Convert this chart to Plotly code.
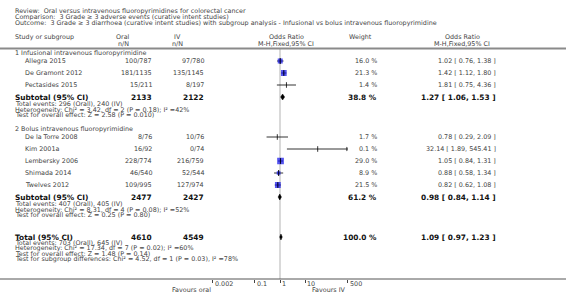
import math
import plotly.graph_objects as go

W, H = 566, 296

# ---------------- data ----------------
g1_names = ["Allegra 2015", "De Gramont 2012", "Pectasides 2015"]
g1_oral = ["100/787", "181/1135", "15/211"]
g1_iv = ["97/780", "135/1145", "8/197"]
g1_weight = [16.0, 21.3, 1.4]
g1_or = [1.02, 1.42, 1.81]
g1_lo = [0.76, 1.12, 0.75]
g1_hi = [1.38, 1.80, 4.36]

g2_names = ["De la Torre 2008", "Kim 2001a", "Lembersky 2006", "Shimada 2014", "Twelves 2012"]
g2_oral = ["8/76", "16/92", "228/774", "46/540", "109/995"]
g2_iv = ["10/76", "0/74", "216/759", "52/544", "127/974"]
g2_weight = [1.7, 0.1, 29.0, 8.9, 21.5]
g2_or = [0.78, 32.14, 1.05, 0.88, 0.82]
g2_lo = [0.29, 1.89, 0.84, 0.58, 0.62]
g2_hi = [2.09, 545.41, 1.31, 1.34, 1.08]

sub_labels = ["Subtotal (95% CI)", "Subtotal (95% CI)", "Total (95% CI)"]
sub_oral_n = ["2133", "2477", "4610"]
sub_iv_n = ["2122", "2427", "4549"]
sub_weight = ["38.8 %", "61.2 %", "100.0 %"]
sub_or = [1.27, 0.98, 1.09]
sub_lo = [1.06, 0.84, 0.97]
sub_hi = [1.53, 1.14, 1.23]

g1_stats = ["Total events: 296 (Orall), 240 (IV)",
            "Heterogeneity: Chi² = 3.42, df = 2 (P = 0.18); I² =42%",
            "Test for overall effect: Z = 2.58 (P = 0.010)"]
g2_stats = ["Total events: 407 (Orall), 405 (IV)",
            "Heterogeneity: Chi² = 8.31, df = 4 (P = 0.08); I² =52%",
            "Test for overall effect: Z = 0.25 (P = 0.80)"]
tot_stats = ["Total events: 703 (Orall), 645 (IV)",
             "Heterogeneity: Chi² = 17.34, df = 7 (P = 0.02); I² =60%",
             "Test for overall effect: Z = 1.48 (P = 0.14)",
             "Test for subgroup differences: Chi² = 4.52, df = 1 (P = 0.03), I² =78%"]

tick_vals = [0.002, 0.1, 1, 10, 500]
tick_text = ["0.002", "0.1", "1", "10", "500"]
x_min, x_max = 0.002, 500

titles = ["Review:  Oral versus intravenous fluoropyrimidines for colorectal cancer",
          "Comparison:  3 Grade ≥ 3 adverse events (curative intent studies)",
          "Outcome:  3 Grade ≥ 3 diarrhoea (curative intent studies) with subgroup analysis - Infusional vs bolus intravenous fluoropyrimidine"]
group_titles = ["1 Infusional intravenous fluoropyrimidine", "2 Bolus intravenous fluoropyrimidine"]
favours = ["Favours oral", "Favours IV"]

# ---------------- layout constants ----------------
FONT = "DejaVu Sans"
TXT = "#444444"
DARK = "#111111"
SMALL = 6.4
BOLD = 7.4
X_STUDY = 13
X_INDENT = 23
X_ORAL = 154
X_IV = 206
X_W = 379
X_OR = 498
PLOT_L, PLOT_R = 212.5, 347.5
AXIS_Y = 279
PITCH = 12

def px(x):
    return x / W

ann = []

def text(x, y, s, anchor="left", size=SMALL, bold=False, color=TXT, xref="paper"):
    if bold:
        s = "<b>" + s + "</b>"
    ann.append(dict(x=px(x) if xref == "paper" else x, y=y, xref=xref, yref="y", text=s,
                    showarrow=False, xanchor=anchor, yanchor="middle",
                    font=dict(family=FONT, size=size, color=color)))

for i, t in enumerate(titles):
    text(X_STUDY, 11 + 6 * i, t)

# headers
text(X_STUDY, 37, "Study or subgroup")
text(123, 37, "Oral", "center")
text(123, 44, "n/N", "center")
text(177, 37, "IV", "center")
text(177, 44, "n/N", "center")
text(286, 37, "Odds Ratio", "center")
text(286, 44, "M-H,Fixed,95% CI", "center")
text(360, 37, "Weight", "center")
text(462, 37, "Odds Ratio", "center")
text(462, 44, "M-H,Fixed,95% CI", "center")

fmt = lambda o, l, h: f"{o:.2f} [ {l:.2f}, {h:.2f} ]"

study_y, study_or, study_lo, study_hi, study_w = [], [], [], [], []
diamonds = []

def subtotal(y, k):
    text(X_STUDY, y, sub_labels[k], bold=True, size=BOLD, color=DARK)
    text(X_ORAL, y, sub_oral_n[k], "right", bold=True, size=BOLD, color=DARK)
    text(X_IV, y, sub_iv_n[k], "right", bold=True, size=BOLD, color=DARK)
    text(X_W, y, sub_weight[k], "right", bold=True, size=BOLD, color=DARK)
    text(X_OR, y, fmt(sub_or[k], sub_lo[k], sub_hi[k]), "right", bold=True, size=BOLD, color=DARK)
    diamonds.append((y, sub_lo[k], sub_or[k], sub_hi[k]))

def group(y0, title, names, oral, iv, wts, ors, los, his, k, stats):
    text(X_STUDY, y0, title)
    y = y0 - 4
    for n, o, v, w, r, l, h in zip(names, oral, iv, wts, ors, los, his):
        y += PITCH
        text(X_INDENT, y, n)
        text(X_ORAL, y, o, "right")
        text(X_IV, y, v, "right")
        text(X_W, y, f"{w:.1f} %", "right")
        text(X_OR, y, fmt(r, l, h), "right")
        study_y.append(y); study_or.append(r); study_lo.append(l); study_hi.append(h); study_w.append(w)
    y += PITCH
    subtotal(y, k)
    for j, s in enumerate(stats):
        text(X_STUDY, y + 7 + 5.6 * j, s)
    return y

group(53, group_titles[0], g1_names, g1_oral, g1_iv, g1_weight, g1_or, g1_lo, g1_hi, 0, g1_stats)
group(129, group_titles[1], g2_names, g2_oral, g2_iv, g2_weight, g2_or, g2_lo, g2_hi, 1, g2_stats)
ty = 237
subtotal(ty, 2)
for j, s in enumerate(tot_stats):
    text(X_STUDY, ty + 5.5 + 5.6 * j, s)

# tick labels, left-aligned at their ticks
for v, t in zip(tick_vals, tick_text):
    text(math.log10(v), AXIS_Y + 4.5, t, "left", xref="x")

# favours labels
text(math.log10(x_min), AXIS_Y + 11, favours[0], "right", xref="x")
text(math.log10(x_max), AXIS_Y + 11, favours[1], "right", xref="x")

fig = go.Figure()

# CI lines
lx, ly, arrows_x, arrows_y = [], [], [], []
for y, l, h in zip(study_y, study_lo, study_hi):
    hh = min(h, x_max)
    ll = max(l, x_min)
    lx += [ll, hh, None]
    ly += [y, y, None]
    if h > x_max:
        arrows_x.append(x_max); arrows_y.append(y)
fig.add_trace(go.Scatter(x=lx, y=ly, mode="lines", line=dict(color="#000000", width=0.8),
                         hoverinfo="skip", showlegend=False))
if arrows_x:
    fig.add_trace(go.Scatter(x=arrows_x, y=arrows_y, mode="markers",
                             marker=dict(symbol="triangle-right", size=4, color="#000000"),
                             hoverinfo="skip", showlegend=False))
# point ticks
fig.add_trace(go.Scatter(x=study_or, y=study_y, mode="markers",
                         marker=dict(symbol="line-ns", size=4, line=dict(color="#000000", width=0.8)),
                         hoverinfo="skip", showlegend=False))
# boxes
big = [(r, y, w) for r, y, w in zip(study_or, study_y, study_w) if w >= 3]
fig.add_trace(go.Scatter(x=[b[0] for b in big], y=[b[1] for b in big], mode="markers",
                         marker=dict(symbol="square", size=[1.25 * math.sqrt(b[2]) for b in big],
                                     color="#1010e8", line=dict(width=0)),
                         hoverinfo="skip", showlegend=False))
fig.add_trace(go.Scatter(x=[b[0] for b in big], y=[b[1] for b in big], mode="markers",
                         marker=dict(symbol="line-ns", size=4, line=dict(color="#000000", width=0.8)),
                         hoverinfo="skip", showlegend=False))
# diamonds
for y, l, o, h in diamonds:
    fig.add_trace(go.Scatter(x=[l, o, h, o, l], y=[y, y - 3, y, y + 3, y], mode="lines",
                             fill="toself", fillcolor="#000000", line=dict(color="#000000", width=0.5),
                             hoverinfo="skip", showlegend=False))

shapes = [
    dict(type="line", xref="x", yref="y", x0=1, x1=1, y0=48, y1=AXIS_Y,
         line=dict(color="#d9d9d9", width=2), layer="below"),
    dict(type="line", xref="paper", yref="y", x0=0, x1=1, y0=48.5, y1=48.5,
         line=dict(color="#8a8a8a", width=2)),
    dict(type="line", xref="paper", yref="y", x0=0, x1=1, y0=AXIS_Y, y1=AXIS_Y,
         line=dict(color="#555555", width=1)),
]

fig.update_layout(
    width=W, height=H, margin=dict(l=0, r=0, t=0, b=0, autoexpand=False),
    paper_bgcolor="white", plot_bgcolor="rgba(0,0,0,0)",
    annotations=ann, shapes=shapes, showlegend=False,
    xaxis=dict(type="log", range=[math.log10(x_min), math.log10(x_max)],
               domain=[px(PLOT_L), px(PLOT_R)], anchor="free", position=(H - AXIS_Y) / H,
               tickvals=tick_vals, ticks="outside", ticklen=3, showticklabels=False,
               tickcolor="#444444", tickwidth=1, showgrid=False, zeroline=False, showline=False,
               automargin=False),
    yaxis=dict(range=[H, 0], domain=[0, 1], visible=False, showgrid=False, zeroline=False),
)

fig.write_html("out.html", config={"displayModeBar": False},
               post_script="document.body.style.margin='0';document.body.style.overflow='hidden';")
